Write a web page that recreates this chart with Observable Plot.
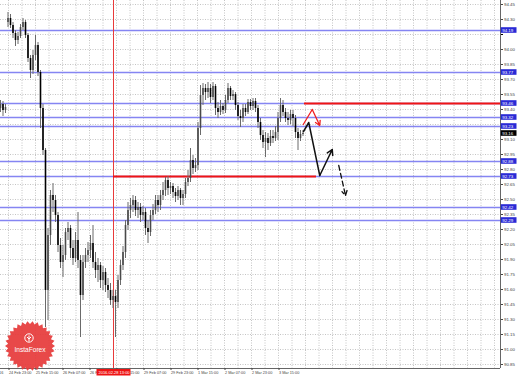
<!DOCTYPE html>
<html><head><meta charset="utf-8">
<script src="https://cdn.jsdelivr.net/npm/d3@7"></script>
<script src="https://cdn.jsdelivr.net/npm/@observablehq/plot@0.6"></script>
<style>
body{margin:0;background:#fff}
#wrap{position:relative;width:519px;height:378px;overflow:hidden}
#logo{position:absolute;left:0;top:0;pointer-events:none}
</style>
</head><body><div id="wrap"></div>
<script>
// OHLC prices, one entry per bar (bar index = position on the time axis)
const opens = [93.41,93.45,93.39,94.27,94.31,94.24,94.16,94.09,94.13,94.22,94.27,94.14,93.91,93.79,93.94,94.04,93.77,93.41,92.99,91.59,
92.14,92.54,92.49,92.34,92.04,91.87,91.94,92.17,92.21,92.01,91.91,92.09,91.89,91.54,91.87,91.94,91.99,92.06,91.87,91.79,
91.84,91.69,91.77,91.64,91.59,91.49,91.53,91.47,91.69,91.84,91.97,92.24,92.39,92.44,92.49,92.39,92.42,92.34,92.37,92.21,
92.17,92.34,92.39,92.49,92.44,92.54,92.59,92.69,92.61,92.63,92.57,92.53,92.59,92.51,92.55,92.67,92.71,92.89,92.81,92.84,
93.21,93.54,93.61,93.57,93.61,93.52,93.63,93.41,93.37,93.43,93.39,93.49,93.61,93.53,93.55,93.44,93.33,93.31,93.41,93.37,
93.47,93.43,93.48,93.41,93.27,93.14,93.07,93.11,93.06,93.13,93.11,93.17,93.31,93.44,93.37,93.31,93.29,93.35,93.31,93.17,
93.11,93.15];
const highs = [93.49,93.48,93.45,94.37,94.35,94.27,94.19,94.17,94.25,94.31,94.29,94.16,93.94,93.99,94.14,94.07,93.79,93.45,93.01,92.21,
92.59,92.66,92.54,92.37,92.11,92.04,92.21,92.27,92.24,92.09,92.17,92.37,91.94,91.94,92.01,92.07,92.14,92.24,91.97,91.91,
91.87,91.83,91.81,91.71,91.66,91.59,91.59,91.74,91.89,92.03,92.29,92.47,92.51,92.54,92.53,92.47,92.46,92.43,92.41,92.29,
92.39,92.45,92.54,92.54,92.59,92.67,92.72,92.73,92.67,92.66,92.61,92.63,92.61,92.59,92.71,92.79,93.01,92.94,92.91,93.27,
93.64,93.66,93.65,93.67,93.65,93.67,93.65,93.47,93.49,93.46,93.54,93.66,93.63,93.59,93.57,93.47,93.39,93.45,93.45,93.50,
93.50,93.51,93.51,93.44,93.31,93.19,93.17,93.16,93.19,93.19,93.23,93.37,93.51,93.49,93.41,93.37,93.39,93.39,93.34,93.21,
93.19,93.19];
const lows = [93.37,93.33,93.36,94.22,94.21,94.11,94.03,94.05,94.11,94.19,94.11,93.87,93.71,93.75,93.89,93.73,93.21,92.94,91.22,91.29,
92.04,92.37,92.27,91.97,91.81,91.72,91.89,92.09,91.91,91.84,91.87,91.81,91.12,91.49,91.81,91.87,91.91,91.81,91.71,91.67,
91.61,91.59,91.57,91.51,91.44,91.41,91.12,91.41,91.64,91.79,91.91,92.19,92.31,92.37,92.33,92.31,92.27,92.29,92.14,92.06,
92.13,92.29,92.35,92.37,92.39,92.49,92.53,92.54,92.55,92.51,92.47,92.49,92.44,92.44,92.51,92.63,92.67,92.75,92.77,92.79,
93.14,93.44,93.49,93.51,93.46,93.49,93.34,93.31,93.34,93.35,93.36,93.46,93.49,93.49,93.39,93.29,93.22,93.27,93.33,93.35,
93.39,93.39,93.37,93.21,93.09,93.01,92.92,92.99,93.03,93.06,93.08,93.09,93.27,93.33,93.27,93.24,93.25,93.23,93.11,92.99,
93.08,93.13];
const closes = [93.45,93.39,93.42,94.31,94.24,94.16,94.09,94.13,94.22,94.27,94.14,93.91,93.79,93.94,94.04,93.77,93.41,92.99,91.59,92.14,
92.54,92.49,92.34,92.04,91.87,91.94,92.17,92.21,92.01,91.91,92.09,91.89,91.54,91.87,91.94,91.99,92.06,91.87,91.79,91.84,
91.69,91.77,91.64,91.59,91.49,91.53,91.47,91.69,91.84,91.97,92.24,92.39,92.44,92.49,92.39,92.42,92.34,92.37,92.21,92.17,
92.34,92.39,92.49,92.44,92.54,92.59,92.69,92.61,92.63,92.57,92.53,92.59,92.51,92.55,92.67,92.71,92.89,92.81,92.84,93.21,
93.54,93.61,93.57,93.61,93.52,93.63,93.41,93.37,93.43,93.39,93.49,93.61,93.53,93.55,93.44,93.33,93.31,93.41,93.37,93.47,
93.43,93.48,93.41,93.27,93.14,93.07,93.11,93.06,93.13,93.11,93.17,93.31,93.44,93.37,93.31,93.29,93.35,93.31,93.17,93.11,
93.15,93.16];

// horizontal levels (blue) and their labels on the price axis
const levelPrices = [94.19, 93.77, 93.46, 93.32, 93.23, 92.88, 92.73, 92.42, 92.29];
// red resistance / support segments
const redPrices = [93.46, 92.73];
const redFrom = [121.6, 45.2];
const redTo = [200, 126.4];
const lastPrice = 93.16;

// price axis ticks
const priceTicks = [90.85,91.00,91.15,91.30,91.45,91.60,91.75,91.90,92.05,92.20,92.35,92.50,92.65,92.80,92.95,93.10,93.25,93.40,93.55,93.70,93.85,94.00,94.15,94.30,94.45];

// time axis ticks (bar positions) and labels
const timeTickPos = [-7.6, 3.2, 14, 24.8, 35.6, 46.4, 57.2, 68, 78.8, 89.6, 100.4, 111.2];
const timeTickLabels = ["24 Feb 2016","24 Feb 23:00","25 Feb 15:00","26 Feb 07:00","26 Feb 23:00","28 Feb 15:00","29 Feb 07:00","29 Feb 23:00","1 Mar 15:00","2 Mar 07:00","2 Mar 23:00","3 Mar 15:00"];
const gridXPos = [3.2,8.6,14,19.4,24.8,30.2,35.6,41,46.4,51.8,57.2,62.6,68,73.4,78.8,84.2,89.6,95,100.4,105.8,111.2,116.6,122,127.4,132.8,138.2,143.6,149,154.4,159.8,165.2,170.6,176,181.4,186.8,192.2,197.6];

// crosshair / separator
const crossX = 45.2;
const crossLabel = "2016.02.28 13:00";

// forecast annotations
const redPathX = [121.1, 124.7, 127.7];
const redPathY = [93.25, 93.40, 93.24];
const blackPathX = [121.2, 123.3, 127.7, 132.7];
const blackPathY = [93.18, 93.27, 92.74, 93.00];
const dashX = [135.3, 138.0];
const dashY = [92.84, 92.54];

const idx = d3.range(closes.length);
const labelMap = new Map(timeTickPos.map((p, i) => [p, timeTickLabels[i]]));
const redSegs = redPrices.map((p, i) => ({price: p, from: redFrom[i], to: redTo[i]}));
const seg = (xs, ys) => xs.map((x, i) => ({x, y: ys[i]}));
const redPath = seg(redPathX, redPathY);
const blackPath = seg(blackPathX, blackPathY);
const last2 = a => a.slice(-2);
const boxed = levelPrices.concat([lastPrice]);
const visibleTicks = priceTicks.filter(t => !boxed.some(b => Math.abs(b - t) < 0.045));

const chart = Plot.plot({
  width: 519, height: 378,
  marginTop: 0, marginBottom: 10, marginLeft: 0, marginRight: 19,
  x: {domain: [0, 200]},
  y: {domain: [90.81, 94.49]},
  style: {background: "white", fontFamily: "'Liberation Sans', Arial, sans-serif", overflow: "visible"},
  marks: [
    Plot.ruleY(priceTicks, {stroke: "#c4c4c4", strokeDasharray: "1,1.5"}),
    Plot.ruleX(gridXPos, {stroke: "#c4c4c4", strokeDasharray: "1,1.5"}),
    Plot.ruleY(levelPrices, {stroke: "#8585f2", strokeWidth: 1.3}),
    Plot.ruleX([crossX], {stroke: "#e83a3a", strokeWidth: 1}),
    Plot.ruleY(redSegs, {y: "price", x1: "from", x2: "to", stroke: "#f01414", strokeWidth: 2}),
    Plot.ruleX(idx, {x: i => i, y1: i => lows[i], y2: i => highs[i], stroke: "#6a6a6a", strokeWidth: 1}),
    Plot.ruleX(idx, {x: i => i, y1: i => opens[i], y2: i => closes[i],
      stroke: i => closes[i] >= opens[i] ? "#4a4a4a" : "#000000", strokeWidth: 1.6}),
    // annotations
    Plot.line(redPath.slice(0, -1), {x: "x", y: "y", stroke: "#f02020", strokeWidth: 1.3}),
    Plot.arrow([last2(redPath)], {x1: d => d[0].x, y1: d => d[0].y, x2: d => d[1].x, y2: d => d[1].y, stroke: "#f02020", strokeWidth: 1.3, headLength: 6}),
    Plot.line(blackPath.slice(0, -1), {x: "x", y: "y", stroke: "#111", strokeWidth: 1.5}),
    Plot.arrow([last2(blackPath)], {x1: d => d[0].x, y1: d => d[0].y, x2: d => d[1].x, y2: d => d[1].y, stroke: "#111", strokeWidth: 1.5, headLength: 6}),
    Plot.arrow([seg(dashX, dashY)], {x1: d => d[0].x, y1: d => d[0].y, x2: d => d[1].x, y2: d => d[1].y, stroke: "#111", strokeWidth: 1.3, strokeDasharray: "5,3", headLength: 6}),
    // frame
    Plot.ruleX([200], {stroke: "#666"}),
    Plot.ruleY([90.81], {stroke: "#666"}),
    // axes
    Plot.axisY(priceTicks, {anchor: "right", tickSize: 2, text: null, label: null}),
    Plot.axisY(visibleTicks, {anchor: "right", tickSize: 2, tickPadding: 1.5, tickFormat: d => d.toFixed(2), fontSize: 4.4, color: "#444"}),
    Plot.axisX(timeTickPos, {anchor: "bottom", tickSize: 2, tickPadding: 1, tickFormat: d => labelMap.get(d), textAnchor: "start", dx: 0.5, fontSize: 3.8, color: "#444"}),
    // level labels
    Plot.rect(levelPrices, {x1: () => 200.3, x2: () => 206.6, y1: d => d - 0.028, y2: d => d + 0.028, fill: "#2a2ad6"}),
    Plot.text(levelPrices, {x: () => 200.7, y: d => d, text: d => d.toFixed(2), fill: "white", textAnchor: "start", fontSize: 4.4}),
    Plot.rect([lastPrice], {x1: () => 200.3, x2: () => 206.6, y1: d => d - 0.028, y2: d => d + 0.028, fill: "#000"}),
    Plot.text([lastPrice], {x: () => 200.7, y: d => d, text: d => d.toFixed(2), fill: "white", textAnchor: "start", fontSize: 4.4}),
    // crosshair label
    Plot.rect([crossX], {x1: d => d - 6.6, x2: d => d + 7, y1: () => 90.735, y2: () => 90.80, fill: "#ee1414"}),
    Plot.text([crossX], {x: d => d + 0.2, y: () => 90.768, text: () => crossLabel, fill: "white", fontSize: 4})
  ]
});
const wrap = document.getElementById("wrap");
wrap.appendChild(chart);

// InstaForex logo overlay
const logo = d3.select(wrap).append("svg").attr("id", "logo").attr("width", 519).attr("height", 378);
const cx = 30, cy = 346, n = 30, ro = 25, ri = 22;
const pts = d3.range(2 * n).map(k => {
  const a = Math.PI * k / n, r = k % 2 ? ri : ro;
  return [cx + r * Math.cos(a), cy + r * Math.sin(a)];
});
logo.append("polygon").attr("points", pts.map(p => p.join(",")).join(" ")).attr("fill", "#e63b3b").attr("fill-opacity", 0.93);
logo.append("circle").attr("cx", cx - 1).attr("cy", cy - 8).attr("r", 4.2).attr("fill", "none").attr("stroke", "white").attr("stroke-width", 1);
logo.append("path").attr("d", `M${cx-1},${cy-10.5} L${cx-1},${cy-4.5} M${cx-3},${cy-9} L${cx-1},${cy-7} L${cx+1},${cy-9}`).attr("stroke", "white").attr("stroke-width", 1).attr("fill", "none");
logo.append("text").attr("x", cx).attr("y", cy + 6).attr("text-anchor", "middle").attr("fill", "white")
  .attr("font-family", "'Liberation Sans', Arial, sans-serif").attr("font-size", 6.6).text("InstaForex");
</script>
</body></html>
